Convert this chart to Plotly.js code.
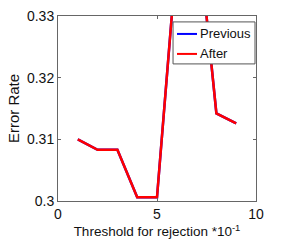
<!DOCTYPE html>
<html><head><meta charset="utf-8">
<script src="https://cdn.plot.ly/plotly-3.0.1.min.js"></script>
<style>html,body{margin:0;padding:0;background:#fff}#c{width:284px;height:244px}</style>
</head><body><div id="c"></div>
<script>
const thresholds = [1, 2, 3, 4, 5, 6, 7, 8, 9];
const previousErr = [0.3100, 0.3083, 0.3083, 0.3006, 0.3006, 0.3400, 0.3458, 0.3142, 0.3126];
const afterErr    = [0.3100, 0.3083, 0.3083, 0.3006, 0.3006, 0.3400, 0.3458, 0.3142, 0.3126];
const seriesNames = ['Previous', 'After'];
const seriesColors = ['#0000ff', '#ff0000'];
const xTicks = [0, 5, 10];
const yTicks = [0.30, 0.31, 0.32, 0.33];
const yTickText = ['0.3', '0.31', '0.32', '0.33'];

const font = {family: 'Liberation Sans, Arial, sans-serif', color: '#111'};
const data = [
  {x: thresholds, y: previousErr, type: 'scatter', mode: 'lines', name: seriesNames[0],
   line: {color: seriesColors[0], width: 2.5}},
  {x: thresholds, y: afterErr, type: 'scatter', mode: 'lines', name: seriesNames[1],
   line: {color: seriesColors[1], width: 2.5}}
];

// MATLAB-style compact legend box (paper coordinates of the plot area)
const legBox = {x0: 0.581, x1: 0.995, y0: 0.741, y1: 0.968};
const legRows = [0.903, 0.795];
const shapes = [{type: 'rect', xref: 'paper', yref: 'paper', x0: legBox.x0, x1: legBox.x1, y0: legBox.y0, y1: legBox.y1,
  fillcolor: '#fff', line: {color: '#555', width: 1}, layer: 'above'}];
const annotations = [];
seriesNames.forEach((n, i) => {
  shapes.push({type: 'line', xref: 'paper', yref: 'paper', x0: 0.601, x1: 0.702, y0: legRows[i], y1: legRows[i],
    line: {color: seriesColors[i], width: 2}, layer: 'above'});
  annotations.push({xref: 'paper', yref: 'paper', x: 0.708, y: legRows[i], xanchor: 'left', yanchor: 'middle',
    text: n, showarrow: false, font: Object.assign({size: 13}, font)});
});

const axisCommon = {showgrid: false, zeroline: false, showline: true, linecolor: '#666', linewidth: 1,
  mirror: 'allticks', ticks: 'inside', ticklen: 3, tickcolor: '#666', tickfont: Object.assign({size: 14}, font)};
const layout = {
  width: 284, height: 244,
  margin: {l: 58, r: 28, t: 16, b: 43},
  paper_bgcolor: '#fff', plot_bgcolor: '#fff',
  showlegend: false,
  shapes: shapes,
  annotations: annotations,
  xaxis: Object.assign({}, axisCommon, {range: [0, 10], tickvals: xTicks, ticktext: xTicks.map(String),
    title: {text: 'Threshold for rejection *10<sup>-1</sup>', font: Object.assign({size: 13.5}, font), standoff: 4}}),
  yaxis: Object.assign({}, axisCommon, {range: [0.30, 0.33], tickvals: yTicks, ticktext: yTickText,
    title: {text: 'Error Rate', font: Object.assign({size: 15}, font), standoff: 3}})
};
Plotly.newPlot('c', data, layout, {displayModeBar: false, staticPlot: true});
</script></body></html>
